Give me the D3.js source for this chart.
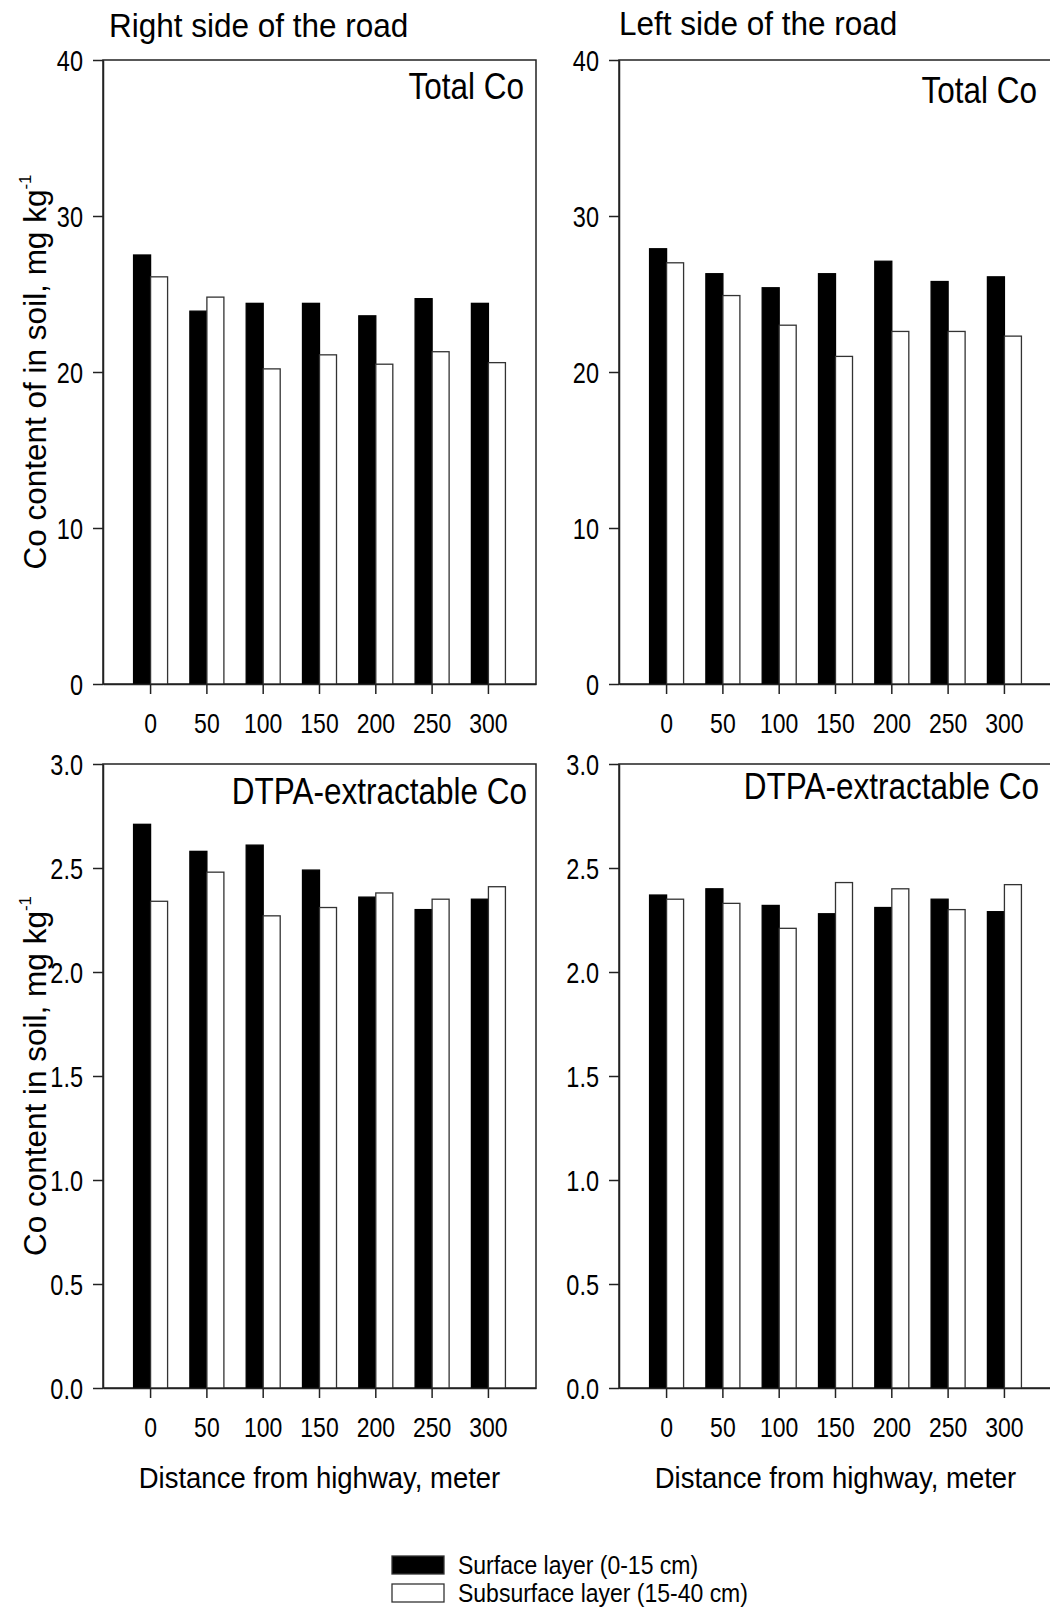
<!DOCTYPE html>
<html>
<head>
<meta charset="utf-8">
<script src="https://cdn.jsdelivr.net/npm/d3@7"></script>
<style>
  html, body { margin: 0; padding: 0; background: #fff; }
  svg { display: block; }
</style>
</head>
<body>
<script>
// distances from highway (m)
const distances = ['0', '50', '100', '150', '200', '250', '300']

// total Co, mg/kg
const totalRightSurface = [27.5, 23.9, 24.4, 24.4, 23.6, 24.7, 24.4]
const totalRightSub = [26.1, 24.8, 20.2, 21.1, 20.5, 21.3, 20.6]
const totalLeftSurface = [27.9, 26.3, 25.4, 26.3, 27.1, 25.8, 26.1]
const totalLeftSub = [27.0, 24.9, 23.0, 21.0, 22.6, 22.6, 22.3]

// DTPA-extractable Co, mg/kg
const dtpaRightSurface = [2.71, 2.58, 2.61, 2.49, 2.36, 2.30, 2.35]
const dtpaRightSub = [2.34, 2.48, 2.27, 2.31, 2.38, 2.35, 2.41]
const dtpaLeftSurface = [2.37, 2.40, 2.32, 2.28, 2.31, 2.35, 2.29]
const dtpaLeftSub = [2.35, 2.33, 2.21, 2.43, 2.40, 2.30, 2.42]

const totalTicks = [0, 10, 20, 30, 40]
const dtpaTicks = [0, 0.5, 1.0, 1.5, 2.0, 2.5, 3.0]

const seriesNames = ['Surface layer (0-15 cm)', 'Subsurface layer (15-40 cm)']

const width = 1050
const height = 1613
const font = "'Liberation Sans', Arial, sans-serif"

const svg = d3
  .select('body')
  .append('svg')
  .attr('width', width)
  .attr('height', height)
  .attr('font-family', font)

// text that is a little stretched vertically, like the original figure
function label(g, x, y, str, size, sy, anchor = 'start') {
  return g
    .append('text')
    .attr('transform', `translate(${x},${y}) scale(1,${sy})`)
    .attr('font-size', size)
    .attr('text-anchor', anchor)
    .attr('fill', '#000')
    .text(str)
}

const panels = [
  { x0: 103, x1: 536, y0: 60, y1: 684, surface: totalRightSurface, sub: totalRightSub, ticks: totalTicks, fmt: d3.format('d'), tag: 'Total Co', tagX: 524, tagY: 99, side: 'Right side of the road', sideX: 109, sideY: 36.5, ylab: 'Co content of in soil, mg kg' },
  { x0: 619, x1: 1052, y0: 60, y1: 684, surface: totalLeftSurface, sub: totalLeftSub, ticks: totalTicks, fmt: d3.format('d'), tag: 'Total Co', tagX: 1037, tagY: 103, side: 'Left side of the road', sideX: 619, sideY: 34.5 },
  { x0: 103, x1: 536, y0: 764, y1: 1388, surface: dtpaRightSurface, sub: dtpaRightSub, ticks: dtpaTicks, fmt: d3.format('.1f'), tag: 'DTPA-extractable Co', tagX: 527, tagY: 804, xlab: true, ylab: 'Co content in soil, mg kg' },
  { x0: 619, x1: 1052, y0: 764, y1: 1388, surface: dtpaLeftSurface, sub: dtpaLeftSub, ticks: dtpaTicks, fmt: d3.format('.1f'), tag: 'DTPA-extractable Co', tagX: 1039, tagY: 799, xlab: true }
]

panels.forEach(p => {
  const g = svg.append('g')
  const yMax = d3.max(p.ticks)

  const x = d3.scaleBand().domain(distances).range([p.x0, p.x1]).paddingInner(0.396).paddingOuter(0.543)
  const xs = d3.scaleBand().domain([0, 1]).range([0, x.bandwidth()])
  const y = d3.scaleLinear().domain([0, yMax]).range([p.y1, p.y0])

  // frame
  g.append('rect')
    .attr('x', p.x0)
    .attr('y', p.y0)
    .attr('width', p.x1 - p.x0)
    .attr('height', p.y1 - p.y0)
    .attr('fill', '#fff')
    .attr('stroke', '#222')
    .attr('stroke-width', 1.5)

  const rows = distances.map((d, i) => ({ d, v: [p.surface[i], p.sub[i]] }))

  g.append('g')
    .selectAll('g')
    .data(rows)
    .join('g')
    .attr('transform', r => `translate(${x(r.d)},0)`)
    .selectAll('rect')
    .data(r => r.v.map((v, k) => ({ v, k })))
    .join('rect')
    .attr('x', b => xs(b.k))
    .attr('y', b => y(b.v))
    .attr('width', xs.bandwidth())
    .attr('height', b => y(0) - y(b.v))
    .attr('fill', b => (b.k === 0 ? '#000' : '#fff'))
    .attr('stroke', b => (b.k === 0 ? '#000' : '#333'))
    .attr('stroke-width', 1.3)

  // x axis
  const xa = g
    .append('g')
    .attr('transform', `translate(0,${p.y1})`)
    .call(d3.axisBottom(x).tickSize(10).tickSizeOuter(0))
  xa.select('.domain').attr('stroke', '#222').attr('stroke-width', 1.5)
  xa.selectAll('.tick line').attr('stroke', '#222').attr('stroke-width', 1.5)
  xa.selectAll('.tick text')
    .attr('y', null)
    .attr('dy', null)
    .attr('font-size', 23)
    .attr('font-family', font)
    .attr('fill', '#000')
    .attr('transform', 'translate(0,49) scale(1,1.24)')

  // y axis
  const ya = g
    .append('g')
    .attr('transform', `translate(${p.x0},0)`)
    .call(d3.axisLeft(y).tickValues(p.ticks).tickFormat(p.fmt).tickSize(10).tickSizeOuter(0))
  ya.select('.domain').attr('stroke', '#222').attr('stroke-width', 1.5)
  ya.selectAll('.tick line').attr('stroke', '#222').attr('stroke-width', 1.5)
  ya.selectAll('.tick text')
    .attr('x', null)
    .attr('dy', null)
    .attr('font-size', 23.5)
    .attr('font-family', font)
    .attr('fill', '#000')
    .attr('transform', 'translate(-20,10) scale(1,1.22)')

  label(g, p.tagX, p.tagY, p.tag, 31.5, 1.15, 'end')

  if (p.side) label(svg, p.sideX, p.sideY, p.side, 31.5, 1.06)

  if (p.xlab) label(g, (p.x0 + p.x1) / 2, 1487.5, 'Distance from highway, meter', 27.5, 1.1, 'middle')

  if (p.ylab) {
    const t = g
      .append('text')
      .attr('transform', `translate(46,${(p.y0 + p.y1) / 2}) rotate(-90)`)
      .attr('font-size', 31.5)
      .attr('text-anchor', 'middle')
      .attr('fill', '#000')
    t.append('tspan').text(p.ylab)
    t.append('tspan').attr('font-size', 17).attr('dy', -15).text('-1')
  }
})

// legend
const legend = svg.append('g').attr('transform', 'translate(392,1556)')
const li = legend
  .selectAll('g')
  .data(seriesNames)
  .join('g')
  .attr('transform', (d, i) => `translate(0,${i * 28})`)
li.append('rect')
  .attr('width', 52)
  .attr('height', 18)
  .attr('fill', (d, i) => (i === 0 ? '#000' : '#fff'))
  .attr('stroke', '#333')
  .attr('stroke-width', 1.3)
li.append('text')
  .attr('transform', 'translate(66,17.5) scale(1,1.1)')
  .attr('font-size', 23)
  .attr('fill', '#000')
  .text(d => d)
</script>
</body>
</html>
